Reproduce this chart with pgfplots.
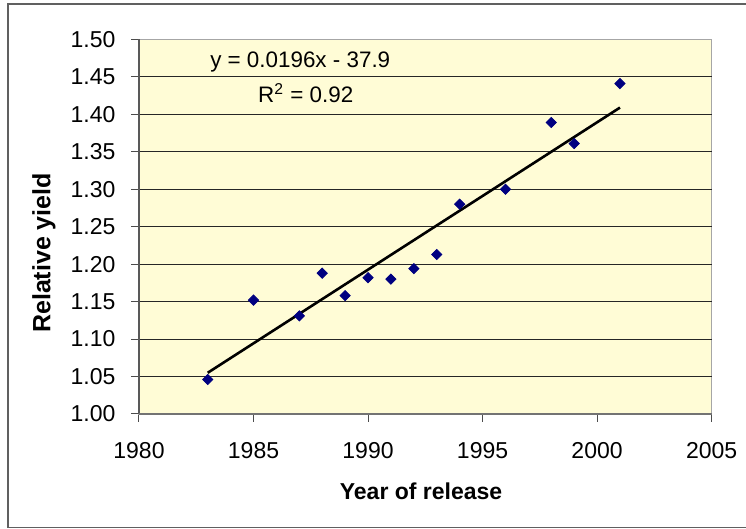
\documentclass[border=0pt]{standalone}
\usepackage{fontspec}
\setmainfont{Liberation Sans}
\usepackage{pgfplots}
\pgfplotsset{compat=1.18}

\definecolor{plotbg}{HTML}{FFFCD6}
\definecolor{navy}{HTML}{000080}
\definecolor{frame}{HTML}{606060}

\begin{document}
\begin{tikzpicture}
\fontsize{11.5}{13.8}\selectfont
\useasboundingbox (0,0) rectangle (373pt,264.5pt);
% outer chart frame (right edge falls outside the page)
\draw[frame, line width=0.6pt] (376pt,262.5pt) -- (4pt,262.5pt) -- (4pt,0.6pt) -- (376pt,0.6pt);
\begin{axis}[
    at={(69.5pt,57.5pt)}, anchor=south west,
    scale only axis,
    width=286.3pt, height=187.3pt,
    xmin=1980, xmax=2005,
    ymin=1.00, ymax=1.50,
    xtick={1980,1985,1990,1995,2000,2005},
    ytick={1.00,1.05,1.10,1.15,1.20,1.25,1.30,1.35,1.40,1.45,1.50},
    xticklabels={1980,1985,1990,1995,2000,2005},
    yticklabels={1.00,1.05,1.10,1.15,1.20,1.25,1.30,1.35,1.40,1.45,1.50},
    xtick pos=bottom, ytick pos=left,
    tick align=outside,
    major tick length=4pt,
    tick style={draw=black!70, line width=0.5pt},
    axis line style={draw=gray!70, line width=0.6pt},
    axis background/.style={fill=plotbg},
    xticklabel style={anchor=north, inner sep=0pt, yshift=-9.8pt},
    yticklabel style={anchor=east, inner sep=0pt, xshift=-7.6pt},
    xlabel={\bfseries Year of release},
    ylabel={\fontsize{12.5}{15}\selectfont\bfseries Relative yield},
    xlabel style={at={(axis description cs:0.4926,-0.227)}, anchor=base},
    ylabel style={at={(axis description cs:-0.166,0.43)}, anchor=center},
    clip=false,
]
\pgfplotsinvokeforeach{1.05,1.10,1.15,1.20,1.25,1.30,1.35,1.40,1.45}{
  \draw[black!85, line width=0.5pt] (axis cs:1980,#1) -- (axis cs:2005,#1);
}
\draw[black!65, line width=0.6pt] (rel axis cs:0,0) -- (rel axis cs:0,1);
\draw[black!55, line width=0.6pt] (rel axis cs:0,0) -- (rel axis cs:1,0);

\addplot[only marks, mark=square*, mark size=1.8pt,
         mark options={rotate=45, fill=navy, draw=navy}]
  coordinates {
    (1983,1.046) (1985,1.152) (1987,1.131) (1988,1.188) (1989,1.158)
    (1990,1.182) (1991,1.180) (1992,1.194) (1993,1.213) (1994,1.280)
    (1996,1.300) (1998,1.389) (1999,1.361) (2001,1.441)
  };
% linear trendline
\addplot[black, line width=1.3pt] coordinates {(1983,1.055) (2001,1.409)};

\node[anchor=base, font=\fontsize{11.2}{13}\selectfont] at (axis cs:1987.04,1.4625) {y = 0.0196x - 37.9};
\node[anchor=base, font=\fontsize{11.2}{13}\selectfont] at (axis cs:1987.28,1.4162) {R\textsuperscript{2} = 0.92};
\end{axis}
\end{tikzpicture}
\end{document}
